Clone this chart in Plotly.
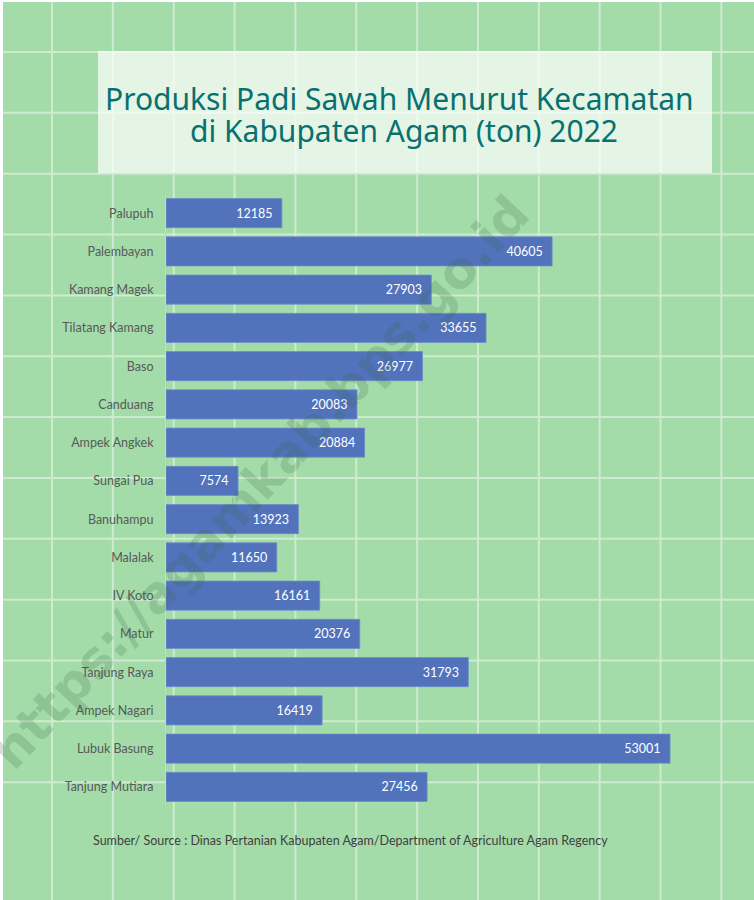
import plotly.graph_objects as go

# ---- data ----
kecamatan = ["Palupuh", "Palembayan", "Kamang Magek", "Tilatang Kamang", "Baso",
             "Canduang", "Ampek Angkek", "Sungai Pua", "Banuhampu", "Malalak",
             "IV Koto", "Matur", "Tanjung Raya", "Ampek Nagari", "Lubuk Basung",
             "Tanjung Mutiara"]
produksi = [12185, 40605, 27903, 33655, 26977, 20083, 20884, 7574, 13923, 11650,
            16161, 20376, 31793, 16419, 53001, 27456]

title_line1 = "Produksi Padi Sawah Menurut Kecamatan"
title_line2 = "di Kabupaten Agam (ton) 2022"
source_text = "Sumber/ Source : Dinas Pertanian Kabupaten Agam/Department of Agriculture Agam Regency"
watermark = "https://agamkab.bps.go.id"

# ---- layout geometry ----
W, H = 754, 900
ML, MR, MT, MB = 166, 65, 194, 94
XMAX = 55000

def px(x):
    return (x - ML) / (W - ML - MR)

def py(y):
    return 1 - (y - MT) / (H - MT - MB)

BG = "#A3DCA9"
GRID = "#CDECCF"

fig = go.Figure()
fig.add_trace(go.Bar(
    y=kecamatan, x=produksi, orientation="h",
    marker=dict(color="#5273BC", line=dict(color="#6F8CCB", width=0.8)),
    text=[f"{v}\u00a0\u00a0" for v in produksi],
    textposition="inside", insidetextanchor="end",
    textfont=dict(color="white", size=12.5, family="Lato"),
    textangle=0, cliponaxis=False,
    hoverinfo="skip",
))

shapes = []
# graph-paper background grid
step = 60.85
for k in range(-1, 13):
    xv = 52 + step * k
    if 0 <= xv <= W:
        shapes.append(dict(type="line", xref="paper", yref="paper", layer="below",
                           x0=px(xv), x1=px(xv), y0=py(0), y1=py(H),
                           line=dict(color=GRID, width=2)))
    yv = 52 + step * k
    if 0 <= yv <= H:
        shapes.append(dict(type="line", xref="paper", yref="paper", layer="below",
                           x0=px(0), x1=px(W), y0=py(yv), y1=py(yv),
                           line=dict(color=GRID, width=2)))
# white edge at left/top
shapes.append(dict(type="rect", xref="paper", yref="paper", layer="below",
                   x0=px(0), x1=px(3), y0=py(0), y1=py(H),
                   fillcolor="white", line=dict(width=0)))
shapes.append(dict(type="rect", xref="paper", yref="paper", layer="below",
                   x0=px(0), x1=px(W), y0=py(0), y1=py(2),
                   fillcolor="white", line=dict(width=0)))
# title box
shapes.append(dict(type="rect", xref="paper", yref="paper", layer="below",
                   x0=px(98), x1=px(712), y0=py(51), y1=py(173),
                   fillcolor="rgba(255,255,255,0.7)", line=dict(width=0)))

annotations = [
    dict(text=title_line1, xref="paper", yref="paper", x=px(399), y=py(98),
         xanchor="center", yanchor="middle", showarrow=False,
         font=dict(family="Noto Sans", size=30, color="#08716F")),
    dict(text=title_line2, xref="paper", yref="paper", x=px(404), y=py(131),
         xanchor="center", yanchor="middle", showarrow=False,
         font=dict(family="Noto Sans", size=30, color="#08716F")),
    dict(text=source_text, xref="paper", yref="paper", x=px(91), y=py(840),
         xanchor="left", yanchor="middle", showarrow=False,
         font=dict(family="Lato", size=12.5, color="#404040")),
    dict(text="<b>" + watermark + "</b>", xref="paper", yref="paper", x=px(260), y=py(482),
         xanchor="center", yanchor="middle", showarrow=False, textangle=-47,
         font=dict(family="DejaVu Sans", size=51, color="rgba(60,100,70,0.2)")),
]

fig.update_layout(
    width=W, height=H,
    margin=dict(l=ML, r=MR, t=MT, b=MB, pad=0),
    paper_bgcolor=BG, plot_bgcolor="rgba(0,0,0,0)",
    showlegend=False,
    bargap=0.24,
    shapes=shapes,
    annotations=annotations,
    xaxis=dict(range=[0, XMAX], visible=False, fixedrange=True),
    yaxis=dict(autorange="reversed", showline=True, linecolor="#D0D0D0", linewidth=1,
               ticks="outside", ticklen=9, tickcolor="rgba(0,0,0,0)",
               tickfont=dict(family="Lato", size=12.5, color="#595959"),
               showgrid=False, zeroline=False, fixedrange=True),
)

fig.write_html("out.html", config={"displayModeBar": False},
               post_script="document.body.style.margin='0';document.body.style.padding='0';")
